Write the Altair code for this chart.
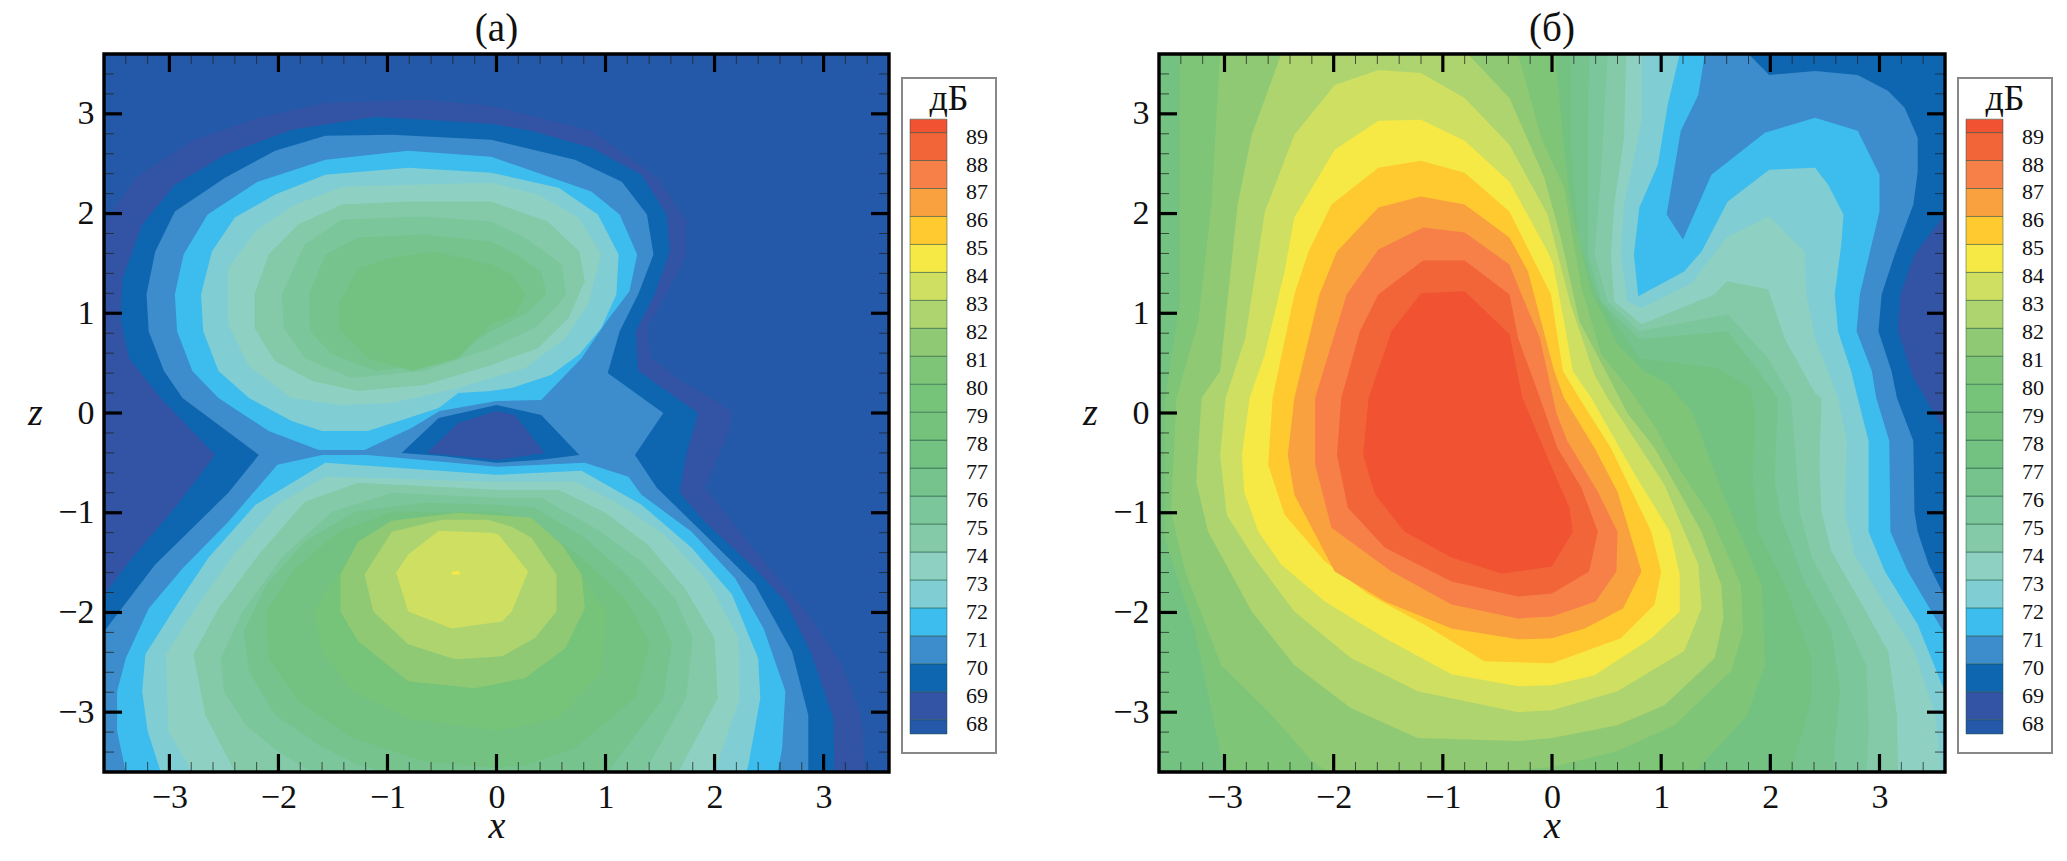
import altair as alt
import pandas as pd

FONT = "Liberation Serif"
W_A, W_B, H = 785, 786, 718

LEVELS = [67, 68, 69, 70, 71, 72, 73, 74, 75, 76, 77, 78, 79, 80, 81, 82, 83, 84, 85, 86, 87, 88, 89]
COLORS = ["#2459A9", "#3353A4", "#0E66B0", "#3D8CCB", "#3CBDEE", "#80CDD3", "#8ED1C3", "#84CAA8",
          "#7CC69C", "#76C38E", "#74C281", "#74C27C", "#76C37A", "#7EC578", "#90C974", "#ADD46F",
          "#CFDF62", "#F6E945", "#FFCA2F", "#F9A03F", "#F68048", "#F26539", "#F15232"]
LEGEND_TOP = 89.48
LEGEND_BOTTOM = 67.49
MAJOR = [-3, -2, -1, 0, 1, 2, 3]
MINOR = [-3.4, -3.2, -2.8, -2.6, -2.4, -2.2, -1.8, -1.6, -1.4, -1.2, -0.8, -0.6, -0.4, -0.2,
         0.2, 0.4, 0.6, 0.8, 1.2, 1.4, 1.6, 1.8, 2.2, 2.4, 2.6, 2.8, 3.2, 3.4]

SQUARE = [(-3.6, 3.6), (3.6, 3.6), (3.6, -3.6), (-3.6, -3.6)]

# ---------- panel (a): contour outlines (x, z) ----------
A68 = [(-3.6, 1.9), (-3.31, 2.36), (-2.79, 2.73), (-2.18, 2.96), (-1.57, 3.11), (-0.66, 3.14), (-0.05, 3.08),
       (0.87, 2.83), (1.48, 2.36), (1.74, 1.92), (1.74, 1.59), (1.57, 1.22), (1.38, 0.85), (1.42, 0.55), (1.70, 0.32),
       (2.16, 0.02), (2.14, -0.15), (1.91, -0.75), (2.40, -1.42), (2.89, -2.06), (3.17, -2.53), (3.35, -3.06),
       (3.38, -3.6), (-3.6, -3.6)]
A69 = [(-3.08, 0.15), (-2.58, -0.42), (-2.95, -0.95), (-3.34, -1.45), (-3.6, -1.82), (-3.6, -3.6), (3.10, -3.6),
       (3.09, -3.06), (2.89, -2.42), (2.65, -1.89), (2.37, -1.56), (1.91, -1.09), (1.68, -0.80), (1.74, -0.42),
       (1.85, 0.0), (1.30, 0.42), (1.28, 0.82), (1.45, 1.19), (1.59, 1.62), (1.56, 1.99), (1.33, 2.39), (0.87, 2.66),
       (0.32, 2.83), (-0.05, 2.90), (-1.11, 2.97), (-1.88, 2.84), (-2.49, 2.59), (-2.95, 2.29), (-3.25, 1.89),
       (-3.43, 1.35), (-3.45, 0.95), (-3.37, 0.55)]
A70 = [(-2.88, 0.15), (-2.18, -0.42), (-2.46, -0.80), (-3.13, -1.52), (-3.6, -2.19), (-3.6, -3.6), (2.86, -3.6),
       (2.86, -3.03), (2.71, -2.39), (2.37, -1.72), (1.94, -1.25), (1.47, -0.75), (1.27, -0.42), (1.53, 0.0),
       (1.02, 0.40), (1.13, 0.82), (1.30, 1.19), (1.44, 1.59), (1.38, 1.99), (1.15, 2.32), (0.72, 2.54), (-0.05, 2.74),
       (-0.96, 2.79), (-1.57, 2.78), (-2.03, 2.63), (-2.49, 2.36), (-2.95, 2.02), (-3.13, 1.62), (-3.21, 1.19),
       (-3.19, 0.82), (-3.05, 0.42)]
A71_UP = [(-0.81, 2.63), (-1.57, 2.54), (-2.19, 2.32), (-2.65, 1.99), (-2.87, 1.59), (-2.95, 1.19), (-2.93, 0.82),
          (-2.79, 0.42), (-2.55, 0.15), (-2.09, -0.18), (-1.63, -0.37), (-1.21, -0.37), (-0.78, -0.15), (-0.52, 0.02),
          (0.0, 0.12), (0.41, 0.13), (0.78, 0.55), (1.01, 0.92), (1.22, 1.22), (1.29, 1.59), (1.13, 1.99), (0.87, 2.22),
          (-0.05, 2.57)]
A71_LOW = [(-1.6, -0.42), (-1.18, -0.42), (0.0, -0.54), (0.81, -0.50), (1.21, -0.64), (1.33, -0.82), (1.79, -1.19),
           (2.19, -1.66), (2.45, -2.16), (2.65, -2.79), (2.62, -3.36), (2.58, -3.6), (-3.4, -3.6), (-3.48, -3.19),
           (-3.48, -2.79), (-3.40, -2.46), (-3.19, -1.96), (-2.88, -1.56), (-2.46, -1.09), (-2.01, -0.52)]
A_HOLE69 = [(-0.87, -0.40), (-0.53, -0.05), (0.0, 0.08), (0.41, -0.02), (0.76, -0.42), (0.41, -0.47), (0.0, -0.50),
            (-0.50, -0.43)]
A_HOLE68 = [(-0.64, -0.40), (-0.35, -0.10), (0.0, 0.02), (0.17, -0.02), (0.44, -0.40), (0.0, -0.47), (-0.35, -0.43)]
A72_UP = [(-0.81, 2.46), (-1.57, 2.39), (-2.03, 2.19), (-2.40, 1.96), (-2.61, 1.62), (-2.71, 1.19), (-2.69, 0.82),
          (-2.55, 0.42), (-2.27, 0.15), (-1.88, -0.08), (-1.60, -0.18), (-1.18, -0.18), (-0.81, -0.05), (-0.53, 0.05),
          (-0.35, 0.20), (-0.05, 0.22), (0.14, 0.25), (0.50, 0.38), (0.76, 0.59), (0.96, 0.85), (1.10, 1.19),
          (1.12, 1.59), (0.93, 1.99), (0.57, 2.26), (-0.05, 2.41)]
A72_LOW = [(-3.08, -3.6), (-3.20, -3.19), (-3.25, -2.79), (-3.22, -2.42), (-2.93, -1.92), (-2.64, -1.45), (-2.21, -0.92),
           (-1.57, -0.50), (0.0, -0.62), (0.78, -0.58), (1.12, -0.79), (1.33, -0.92), (1.79, -1.35), (2.16, -1.82),
           (2.40, -2.46), (2.42, -2.86), (2.31, -3.53), (2.29, -3.6)]
A73_UP = [(-0.81, 2.29), (-1.42, 2.27), (-1.88, 2.07), (-2.21, 1.82), (-2.46, 1.45), (-2.46, 0.89), (-2.27, 0.47),
          (-1.88, 0.15), (-1.42, 0.08), (-0.96, 0.10), (-0.35, 0.25), (-0.05, 0.35), (0.26, 0.45), (0.63, 0.75),
          (0.84, 1.09), (0.96, 1.59), (0.75, 1.96), (0.38, 2.19), (-0.05, 2.31)]
A73_LOW = [(-2.79, -3.6), (-3.01, -3.19), (-3.03, -2.42), (-2.76, -1.96), (-2.43, -1.45), (-2.01, -0.92), (-1.57, -0.64),
           (0.0, -0.69), (0.72, -0.69), (1.09, -0.89), (1.54, -1.22), (1.94, -1.69), (2.22, -2.26), (2.23, -2.86),
           (2.0, -3.6)]
A74_UP = [(-0.81, 2.12), (-1.42, 2.09), (-1.82, 1.89), (-2.09, 1.59), (-2.22, 1.19), (-2.22, 0.85), (-2.03, 0.52),
          (-1.69, 0.32), (-1.27, 0.22), (-0.66, 0.28), (-0.05, 0.48), (0.38, 0.65), (0.66, 0.95), (0.81, 1.32),
          (0.76, 1.62), (0.47, 1.92), (-0.05, 2.12)]
A74_LOW = [(-2.40, -3.6), (-2.67, -3.03), (-2.78, -2.42), (-2.55, -1.96), (-2.18, -1.42), (-1.76, -0.89), (-1.27, -0.70),
           (0.0, -0.77), (0.57, -0.77), (1.0, -1.0), (1.39, -1.32), (1.73, -1.76), (2.0, -2.26), (2.03, -2.86),
           (1.67, -3.6)]
A75_UP = [(-0.66, 1.97), (-1.42, 1.94), (-1.76, 1.69), (-1.97, 1.19), (-1.95, 0.85), (-1.76, 0.55), (-1.33, 0.35),
          (-0.66, 0.42), (-0.05, 0.65), (0.35, 0.85), (0.57, 1.09), (0.64, 1.19), (0.60, 1.49), (0.26, 1.76), (-0.05, 1.92)]
A75_LOW = [(-1.70, -3.6), (-2.01, -3.39), (-2.30, -3.13), (-2.50, -2.79), (-2.53, -2.46), (-2.33, -1.99), (-1.97, -1.45),
           (-1.51, -0.99), (-0.96, -0.80), (0.0, -0.85), (0.41, -0.85), (0.93, -1.17), (1.33, -1.49), (1.64, -1.86),
           (1.80, -2.26), (1.74, -2.86), (1.36, -3.6)]
A76_UP = [(-0.66, 1.79), (-1.27, 1.76), (-1.57, 1.59), (-1.72, 1.19), (-1.71, 0.82), (-1.51, 0.59), (-1.11, 0.42),
          (-0.50, 0.50), (-0.05, 0.82), (0.26, 0.99), (0.46, 1.19), (0.41, 1.42), (0.14, 1.62), (-0.05, 1.72)]
A76_LOW = [(-1.02, -3.6), (-1.27, -3.53), (-1.63, -3.33), (-2.03, -3.03), (-2.27, -2.59), (-2.32, -2.19), (-2.11, -1.72),
           (-1.76, -1.29), (-1.30, -0.99), (-0.66, -0.90), (0.0, -0.92), (0.35, -0.95), (0.81, -1.25), (1.19, -1.62),
           (1.48, -1.99), (1.61, -2.32), (1.53, -2.86), (1.02, -3.6)]
A77_UP = [(-0.56, 1.62), (-0.96, 1.56), (-1.27, 1.45), (-1.45, 1.09), (-1.45, 0.85), (-1.18, 0.55), (-0.78, 0.42),
          (-0.35, 0.55), (-0.05, 0.89), (0.17, 0.99), (0.27, 1.19), (0.14, 1.39), (-0.05, 1.49)]
A77_LOW = [(0.0, -3.56), (-0.66, -3.49), (-1.33, -3.26), (-1.82, -2.89), (-2.09, -2.46), (-2.11, -1.99), (-1.85, -1.56),
           (-1.45, -1.19), (-0.96, -0.99), (0.0, -0.99), (0.32, -1.09), (0.78, -1.45), (1.18, -1.86), (1.41, -2.32),
           (1.27, -2.86), (0.72, -3.36), (0.26, -3.53)]
A79 = [(-1.68, -1.99), (-1.60, -2.39), (-1.33, -2.79), (-0.81, -3.06), (0.0, -3.19), (0.57, -3.06), (0.96, -2.59),
       (1.01, -1.99), (0.75, -1.59), (0.41, -1.25), (-0.05, -1.04), (-0.81, -1.09), (-1.33, -1.42)]
A81 = [(-1.43, -1.62), (-1.27, -1.29), (-0.96, -1.08), (-0.35, -1.00), (0.32, -1.05), (0.60, -1.32), (0.78, -1.62),
       (0.81, -1.96), (0.63, -2.36), (0.26, -2.66), (-0.20, -2.76), (-0.81, -2.69), (-1.27, -2.29), (-1.43, -1.99)]
A82 = [(-1.21, -1.62), (-1.13, -1.99), (-0.81, -2.32), (-0.38, -2.47), (0.05, -2.44), (0.35, -2.26), (0.55, -1.99),
       (0.55, -1.62), (0.32, -1.25), (0.14, -1.14), (-0.08, -1.07), (-0.50, -1.07), (-0.96, -1.19)]
A83 = [(-0.92, -1.60), (-0.81, -1.99), (-0.41, -2.16), (0.05, -2.09), (0.14, -1.99), (0.29, -1.59), (0.02, -1.22),
       (-0.05, -1.20), (-0.53, -1.18), (-0.81, -1.42)]
A84 = [(-0.41, -1.60), (-0.35, -1.58), (-0.33, -1.62), (-0.41, -1.62)]

PANEL_A = [(67, SQUARE), (68, A68), (69, A69), (70, A70), (71, A71_UP), (71, A71_LOW), (69, A_HOLE69), (68, A_HOLE68),
           (72, A72_UP), (72, A72_LOW), (73, A73_UP), (73, A73_LOW), (74, A74_UP), (74, A74_LOW),
           (75, A75_UP), (75, A75_LOW), (76, A76_UP), (76, A76_LOW), (77, A77_UP), (77, A77_LOW),
           (79, A79), (81, A81), (82, A82), (83, A83), (84, A84)]

# ---------- panel (b) ----------
B69 = [(-3.6, 3.6), (3.6, 3.6), (3.6, 1.99), (3.32, 1.59), (3.19, 1.19), (3.17, 0.82), (3.31, 0.35), (3.42, 0.15),
       (3.6, -0.18), (3.6, -3.6), (-3.6, -3.6)]
B70 = [(-3.6, 3.6), (1.80, 3.6), (1.99, 3.39), (2.41, 3.43), (2.80, 3.39), (3.08, 3.23), (3.23, 3.06), (3.35, 2.76),
       (3.35, 2.42), (3.31, 2.09), (3.14, 1.59), (3.02, 1.19), (2.99, 0.82), (3.11, 0.42), (3.16, 0.15), (3.31, -0.28),
       (3.32, -0.99), (3.35, -1.19), (3.45, -1.52), (3.6, -1.85), (3.6, -3.6), (-3.6, -3.6)]
B71 = [(-3.6, 3.6), (1.40, 3.6), (1.34, 3.19), (1.18, 2.83), (1.05, 1.99), (1.20, 1.74), (1.46, 2.39), (1.95, 2.81),
       (2.41, 2.96), (2.80, 2.83), (3.0, 2.39), (3.0, 2.02), (2.82, 1.19), (2.79, 0.82), (2.93, 0.42), (2.97, 0.15),
       (3.09, -0.28), (3.10, -1.19), (3.26, -1.59), (3.6, -2.22), (3.6, -3.6), (-3.6, -3.6)]
B72 = [(-3.6, 3.6), (1.17, 3.6), (1.06, 3.09), (0.97, 2.49), (0.80, 2.06), (0.75, 1.59), (0.79, 1.17), (1.21, 1.42),
       (1.37, 1.62), (1.61, 2.12), (1.99, 2.44), (2.41, 2.46), (2.53, 2.29), (2.67, 1.99), (2.65, 1.69), (2.59, 1.19),
       (2.62, 0.82), (2.74, 0.42), (2.80, 0.15), (2.90, -0.28), (2.90, -1.19), (3.05, -1.59), (3.35, -2.12), (3.6, -2.8),
       (3.6, -3.6), (-3.6, -3.6)]
B73 = [(-3.6, 3.6), (0.82, 3.6), (0.82, 2.93), (0.66, 2.09), (0.63, 1.59), (0.69, 1.12), (0.82, 1.05), (1.28, 1.30),
       (1.43, 1.52), (1.60, 1.76), (1.99, 1.97), (2.31, 1.62), (2.33, 1.19), (2.41, 0.75), (2.62, 0.15), (2.70, -0.28),
       (2.68, -0.99), (2.77, -1.42), (3.05, -1.92), (3.32, -2.39), (3.51, -3.03), (3.57, -3.6), (-3.6, -3.6)]
B74 = [(-3.6, 3.6), (0.68, 3.6), (0.66, 2.76), (0.57, 2.09), (0.54, 1.59), (0.57, 1.12), (0.82, 0.89), (1.49, 1.19),
       (1.60, 1.32), (1.98, 1.24), (2.13, 0.75), (2.41, 0.20), (2.47, 0.15), (2.45, -0.52), (2.47, -0.99), (2.56, -1.39),
       (2.84, -1.92), (3.08, -2.39), (3.16, -3.03), (3.17, -3.6), (-3.6, -3.6)]
B75 = [(-3.6, 3.6), (0.51, 3.6), (0.45, 2.42), (0.39, 1.59), (0.51, 1.12), (0.80, 0.82), (1.61, 0.99), (1.98, 0.55),
       (2.19, 0.15), (2.27, -0.99), (2.38, -1.45), (2.65, -1.99), (2.88, -2.53), (2.90, -3.19), (2.88, -3.6), (-3.6, -3.6)]
B76 = [(-3.6, 3.6), (0.34, 3.6), (0.33, 2.76), (0.33, 1.59), (0.45, 1.12), (0.80, 0.74), (1.61, 0.82), (1.89, 0.42),
       (2.07, 0.15), (2.04, -0.69), (2.10, -1.05), (2.31, -1.69), (2.56, -2.19), (2.64, -2.79), (2.59, -3.36), (2.58, -3.6),
       (-3.6, -3.6)]
B77 = [(-3.6, 3.6), (0.17, 3.6), (0.17, 2.76), (0.24, 1.76), (0.40, 1.19), (0.80, 0.55), (1.52, 0.45), (1.82, 0.25),
       (1.86, 0.0), (1.84, -0.69), (1.89, -1.19), (2.13, -1.72), (2.38, -2.46), (2.38, -2.86), (2.19, -3.6), (-3.6, -3.6)]
B80 = [(-3.41, 3.6), (0.03, 3.6), (0.10, 2.76), (0.17, 2.09), (0.36, 1.22), (0.60, 0.69), (0.84, 0.42), (1.05, 0.30),
       (1.28, 0.02), (1.58, -0.85), (1.92, -1.72), (1.95, -2.53), (1.79, -3.03), (1.31, -3.6), (-3.0, -3.6), (-3.27, -2.19),
       (-3.55, -1.25), (-3.55, 0.12), (-3.41, 1.09)]
B81 = [(-3.04, 3.6), (-0.31, 3.6), (-0.10, 2.76), (0.11, 2.26), (0.27, 1.25), (0.45, 0.59), (0.70, 0.25), (0.95, -0.15),
       (1.10, -0.45), (1.46, -1.05), (1.73, -1.72), (1.75, -2.19), (1.64, -2.59), (1.12, -3.13), (0.60, -3.39),
       (0.0, -3.55), (-0.6, -3.6), (-2.05, -3.6), (-2.20, -3.49), (-2.54, -3.06), (-3.03, -2.53), (-3.36, -1.59),
       (-3.49, -0.99), (-3.44, 0.15), (-3.24, 0.92), (-3.12, 2.09)]
B82 = [(-2.48, 3.6), (-0.77, 3.6), (-0.39, 3.16), (-0.07, 2.36), (0.08, 1.76), (0.25, 0.92), (0.51, 0.38), (0.69, 0.0),
       (0.94, -0.35), (1.37, -1.19), (1.55, -1.72), (1.57, -2.06), (1.49, -2.46), (1.03, -2.93), (0.60, -3.13), (0.0, -3.26),
       (-0.31, -3.29), (-1.23, -3.26), (-1.84, -2.96), (-2.36, -2.53), (-2.75, -1.99), (-3.15, -1.19), (-3.26, -0.69),
       (-3.21, 0.15), (-3.04, 0.42), (-2.88, 2.09), (-2.75, 2.79)]
B83 = [(-1.99, 3.29), (-1.59, 3.44), (-1.20, 3.41), (-0.80, 3.16), (-0.39, 2.69), (-0.04, 1.99), (0.17, 1.09), (0.39, 0.38),
       (0.51, 0.15), (1.03, -0.72), (1.34, -1.52), (1.37, -1.96), (1.21, -2.39), (0.60, -2.79), (0.0, -2.98), (-0.31, -3.0),
       (-1.23, -2.79), (-1.84, -2.46), (-2.36, -1.99), (-2.75, -1.42), (-2.98, -1.02), (-3.04, -0.42), (-2.99, 0.15),
       (-2.81, 0.75), (-2.63, 2.02), (-2.36, 2.79)]
B84 = [(-1.59, 2.93), (-1.20, 2.94), (-0.80, 2.73), (-0.39, 2.32), (-0.04, 1.62), (0.01, 1.49), (0.11, 0.92), (0.19, 0.42),
       (0.36, 0.15), (0.76, -0.62), (1.08, -1.19), (1.17, -1.62), (1.17, -1.99), (0.91, -2.26), (0.39, -2.63), (0.0, -2.73),
       (-0.31, -2.74), (-0.92, -2.62), (-1.53, -2.26), (-2.08, -1.89), (-2.48, -1.52), (-2.69, -1.19), (-2.82, -0.79),
       (-2.84, -0.42), (-2.77, 0.15), (-2.63, 0.59), (-2.45, 1.42), (-2.36, 1.96), (-1.99, 2.64)]
B85 = [(-1.20, 2.53), (-0.80, 2.41), (-0.39, 2.02), (-0.01, 1.19), (0.10, 0.42), (0.25, 0.15), (0.54, -0.35), (0.91, -1.19),
       (1.0, -1.59), (0.94, -1.92), (0.63, -2.26), (0.0, -2.51), (-0.62, -2.49), (-1.17, -2.12), (-1.68, -1.82), (-2.08, -1.49),
       (-2.45, -1.02), (-2.60, -0.52), (-2.56, 0.15), (-2.36, 1.19), (-2.23, 1.62), (-2.02, 2.09), (-1.59, 2.46)]
B86 = [(-1.20, 2.17), (-0.80, 2.09), (-0.39, 1.76), (-0.22, 1.42), (0.02, 0.42), (0.11, 0.15), (0.39, -0.35), (0.60, -0.79),
       (0.82, -1.59), (0.65, -1.96), (0.30, -2.16), (0.0, -2.26), (-0.31, -2.27), (-0.92, -2.16), (-1.53, -1.89), (-1.99, -1.59),
       (-2.36, -0.82), (-2.42, -0.42), (-2.36, 0.15), (-2.13, 1.19), (-1.97, 1.62), (-1.59, 2.06)]
B87 = [(-1.18, 1.86), (-0.80, 1.81), (-0.39, 1.49), (-0.28, 1.19), (-0.11, 0.75), (0.04, 0.0), (0.14, -0.28), (0.42, -0.79),
       (0.60, -1.19), (0.59, -1.59), (0.40, -1.89), (0.0, -2.04), (-0.31, -2.06), (-0.92, -1.92), (-1.47, -1.59), (-2.02, -1.15),
       (-2.17, -0.52), (-2.17, 0.15), (-1.88, 1.19), (-1.59, 1.64)]
B88 = [(-1.18, 1.53), (-0.80, 1.53), (-0.39, 1.19), (-0.31, 0.75), (-0.11, 0.15), (0.05, -0.35), (0.27, -0.75), (0.42, -1.19),
       (0.34, -1.59), (0.0, -1.81), (-0.31, -1.84), (-0.92, -1.69), (-1.53, -1.35), (-1.87, -0.95), (-1.97, -0.42), (-1.93, 0.15),
       (-1.76, 0.82), (-1.59, 1.19)]
B89 = [(-1.20, 1.20), (-0.80, 1.22), (-0.39, 0.79), (-0.27, 0.15), (-0.04, -0.45), (0.16, -0.95), (0.19, -1.19), (0.0, -1.54),
       (-0.46, -1.61), (-0.92, -1.45), (-1.35, -1.19), (-1.62, -0.82), (-1.73, -0.42), (-1.68, 0.15), (-1.47, 0.82)]

PANEL_B = [(68, SQUARE), (69, B69), (70, B70), (71, B71), (72, B72), (73, B73), (74, B74), (75, B75), (76, B76), (77, B77),
           (80, B80), (81, B81), (82, B82), (83, B83), (84, B84), (85, B85), (86, B86), (87, B87), (88, B88), (89, B89)]


def polygons(panel):
    rows = []
    for poly, (level, pts) in enumerate(panel):
        for i, (x, z) in enumerate(list(pts) + [pts[0]]):
            rows.append({"x": x, "z": z, "level": level, "poly": poly, "i": i})
    return pd.DataFrame(rows)


def panel(data, title, w):
    sx = alt.Scale(domain=[-3.6, 3.6], nice=False, zero=False)
    sz = alt.Scale(domain=[-3.6, 3.6], nice=False, zero=False)
    ax = alt.Axis(values=MAJOR, format="d", ticks=False, domain=False, grid=False, labelFont=FONT, labelFontSize=34,
                  labelColor="#111", labelPadding=8, title="x", titleFont=FONT, titleFontSize=38, titleFontStyle="italic",
                  titleFontWeight="normal", titleColor="#111", titlePadding=-7, labelFlush=False)
    az = alt.Axis(values=MAJOR, format="d", ticks=False, domain=False, grid=False, labelFont=FONT, labelFontSize=34,
                  labelColor="#111", labelPadding=10, title="z", titleFont=FONT, titleFontSize=38, titleFontStyle="italic",
                  titleFontWeight="normal", titleColor="#111", titleAngle=0, titlePadding=23, labelFlush=False,
                  titleBaseline="middle")
    X = alt.X("x:Q", scale=sx, axis=ax)
    Y = alt.Y("z:Q", scale=sz, axis=az)
    fills = alt.Chart(polygons(data)).mark_line(filled=True, clip=True, interpolate="linear").encode(
        x=X, y=Y,
        color=alt.Color("level:O", scale=alt.Scale(domain=LEVELS, range=COLORS), legend=None),
        detail="poly:N",
        order=alt.Order("i:Q"),
    )
    mj_x = alt.Chart(pd.DataFrame({"x": MAJOR}))
    mn_x = alt.Chart(pd.DataFrame({"x": MINOR}))
    mj_z = alt.Chart(pd.DataFrame({"z": MAJOR}))
    mn_z = alt.Chart(pd.DataFrame({"z": MINOR}))
    layers = [fills]
    for src, wd, ln, col, op in [(mj_x, 3.2, 18, "#000", 1), (mn_x, 1, 10, "#222", 0.75)]:
        layers.append(src.mark_rule(strokeWidth=wd, color=col, opacity=op).encode(x=X, y=alt.value(0), y2=alt.value(ln)))
        layers.append(src.mark_rule(strokeWidth=wd, color=col, opacity=op).encode(x=X, y=alt.value(H - ln), y2=alt.value(H)))
    for src, wd, ln, col, op in [(mj_z, 3.2, 18, "#000", 1), (mn_z, 1, 10, "#222", 0.75)]:
        layers.append(src.mark_rule(strokeWidth=wd, color=col, opacity=op).encode(y=Y, x=alt.value(0), x2=alt.value(ln)))
        layers.append(src.mark_rule(strokeWidth=wd, color=col, opacity=op).encode(y=Y, x=alt.value(w - ln), x2=alt.value(w)))
    frame = alt.Chart(pd.DataFrame({"a": [0]})).mark_rect(fill=None, stroke="#000", strokeWidth=3.4).encode(
        x=alt.value(0), x2=alt.value(w), y=alt.value(0), y2=alt.value(H))
    layers.append(frame)
    return alt.layer(*layers).properties(
        width=w, height=H,
        title=alt.TitleParams(title, font=FONT, fontSize=39, fontWeight="normal", color="#111", offset=3, anchor="middle"),
    )


LEGEND_LOW = [LEGEND_BOTTOM] + LEVELS[1:]
LEGEND_HIGH = LEVELS[1:] + [LEGEND_TOP]
LEGEND_TICKS = LEVELS[1:]


def legend(width):
    sy = alt.Scale(domain=[66.13, 91.81], nice=False, zero=False)
    bar = pd.DataFrame({"low": LEGEND_LOW, "high": LEGEND_HIGH, "level": LEVELS})
    box = alt.Chart(pd.DataFrame({"a": [0]})).mark_rect(fill="#fff", stroke="#888", strokeWidth=2).encode(
        x=alt.value(13), x2=alt.value(107), y=alt.value(24), y2=alt.value(699))
    rects = alt.Chart(bar).mark_rect(stroke="#1d4d3a", strokeWidth=0.6, strokeOpacity=0.8).encode(
        x=alt.value(21), x2=alt.value(58),
        y=alt.Y("low:Q", scale=sy, axis=None), y2="high:Q",
        color=alt.Color("level:O", scale=alt.Scale(domain=LEVELS, range=COLORS), legend=None),
    )
    labels = alt.Chart(pd.DataFrame({"v": LEGEND_TICKS})).mark_text(
        font=FONT, fontSize=22, align="left", baseline="middle", dy=4, color="#111"
    ).encode(x=alt.value(77), y=alt.Y("v:Q", scale=sy, axis=None), text=alt.Text("v:Q", format="d"))
    head = alt.Chart(pd.DataFrame({"t": ["дБ"]})).mark_text(
        font=FONT, fontSize=36, align="center", baseline="middle", color="#111"
    ).encode(x=alt.value(60), y=alt.value(45), text="t:N")
    return alt.layer(box, rects, labels, head).properties(width=width, height=H)


chart = alt.hconcat(
    panel(PANEL_A, "(a)", W_A), legend(270), panel(PANEL_B, "(б)", W_B), legend(110),
    spacing=0, bounds="flush",
).resolve_scale(x="independent", y="independent", color="shared").configure_view(stroke=None).properties(
    padding={"left": 19, "top": 2, "right": 0, "bottom": 0}, background="#ffffff")

chart.save("out.html", embed_options={"renderer": "svg", "actions": False})
